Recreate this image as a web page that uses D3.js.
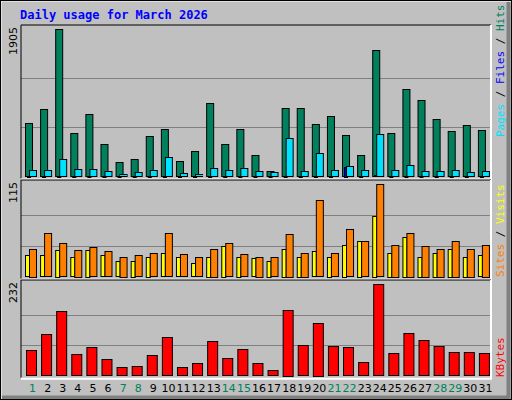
<!DOCTYPE html>
<html><head><meta charset="utf-8">
<script src="https://cdn.jsdelivr.net/npm/d3@7"></script>
<style>body{margin:0;background:#fff}</style>
</head><body>
<svg id="chart" width="512" height="400"></svg>
<script>
const days = d3.range(1, 32);
const weekend = [1, 7, 8, 14, 15, 21, 22, 28, 29];
const hits = [690, 871, 1905, 560, 806, 418, 185, 224, 521, 612, 198, 328, 948, 418, 612, 276,
  69, 884, 884, 677, 780, 534, 276, 1633, 560, 1129, 987, 741, 586, 664, 599];
const files = [82, 82, 224, 95, 95, 69, 30, 56, 82, 250, 43, 30, 108, 82, 108, 69,
  56, 496, 69, 302, 82, 134, 82, 547, 82, 147, 69, 69, 82, 56, 69];
const pages = [6, 6, 10, 6, 6, 5, 3, 4, 6, 10, 3, 3, 8, 6, 8, 5,
  4, 12, 5, 10, 6, 125, 6, 14, 6, 9, 5, 5, 6, 4, 5];
const visits = [35, 54, 41.5, 33, 36.5, 31.6, 25, 26.6, 29, 54, 28, 24, 35, 41.5, 28, 25,
  24, 53, 30, 95, 29, 59, 44, 115, 40, 55, 38, 35, 45, 35, 40];
const sites = [26.6, 26.6, 33, 24, 33, 26.6, 19, 20, 25, 29, 24, 16.6, 25, 38, 25, 23,
  20, 35, 25, 31.6, 25, 40, 45, 76, 30, 50, 25, 30, 35, 25, 26.6];
const kbytes = [64, 105, 163, 54, 72, 41.5, 21, 24, 52, 97, 21, 31, 87, 44, 67, 31,
  13.5, 168, 77, 135, 74.5, 72, 34, 232, 57, 107.5, 90, 74.5, 59, 59, 57];

const svg = d3.select('#chart');
const mono = "'DejaVu Sans Mono', monospace";
const sans = "'DejaVu Sans', sans-serif";

// frame
svg.append('rect').attr('x', 0).attr('y', 0).attr('width', 512).attr('height', 400).attr('fill', '#c0c0c0');
svg.append('path').attr('d', 'M0.5,399.5V0.5H511.5').attr('stroke', '#fff').attr('stroke-width', 2).attr('fill', 'none');
svg.append('path').attr('d', 'M2,397.5H508.5V2').attr('stroke', '#808080').attr('stroke-width', 4).attr('fill', 'none');
svg.append('rect').attr('x', 0.5).attr('y', 0.5).attr('width', 511).attr('height', 399).attr('fill', 'none').attr('stroke', '#000');

svg.append('text').attr('x', 20).attr('y', 19).attr('fill', '#0000ff')
  .attr('font-family', mono).attr('font-weight', 'bold').attr('font-size', 12)
  .text('Daily usage for March 2026');

const x = d3.scaleBand().domain(days).range([22, 490]).paddingInner(0).paddingOuter(0);

const panels = [
  { top: 25, base: 176.5, maxY: 29.3, max: 1905, label: '1905' },
  { top: 180, base: 276.7, maxY: 184.3, max: 115, label: '115' },
  { top: 280, base: 375.7, maxY: 284.3, max: 232, label: '232' }
];

panels.forEach(p => {
  const h = p.base - p.top;
  const bottom = p.base + 2;
  svg.append('rect').attr('x', 21).attr('y', p.top).attr('width', 470).attr('height', bottom - p.top).attr('fill', '#c0c0c0');
  [1, 2].forEach(k => {
    const gy = Math.round(p.base - (p.base - p.maxY) * k / 3) + 0.5;
    svg.append('line').attr('x1', 21).attr('x2', 490).attr('y1', gy).attr('y2', gy).attr('stroke', '#808080');
  });
  svg.append('path').attr('d', `M21,${bottom}V${p.top}H491`).attr('stroke', '#000').attr('fill', 'none');
  svg.append('path').attr('d', `M21,${bottom + 1}H491V${p.top}`).attr('stroke', '#fff').attr('stroke-width', 2).attr('fill', 'none');
  svg.append('text').attr('transform', `translate(17,${p.top + 2}) rotate(-90)`).attr('text-anchor', 'end')
    .attr('font-family', sans).attr('font-size', 11).attr('fill', '#000').text(p.label);
  p.y = d3.scaleLinear().domain([0, p.max]).range([p.base, p.maxY]);
});

function bars(data, p, dx, w, color) {
  svg.append('g').selectAll('rect').data(data).join('rect')
    .attr('x', (d, i) => x(days[i]) + dx + 0.5)
    .attr('y', d => Math.round(p.y(d)) + 0.5)
    .attr('width', w)
    .attr('height', d => Math.max(1, Math.round(p.base - p.y(d))))
    .attr('fill', color).attr('stroke', '#000');
}

const [p1, p2, p3] = panels;
bars(hits, p1, 3, 7, '#00805c');
bars(pages, p1, 5, 3, '#0000ff');
bars(files, p1, 7, 7, '#00e0ff');
bars(sites, p2, 3, 4, '#ffff00');
bars(visits, p2, 7, 7, '#ff8000');
bars(kbytes, p3, 4, 10, '#ff0000');

svg.append('g').selectAll('text').data(days).join('text')
  .attr('x', d => x(d) + x.bandwidth() / 2 + 3)
  .attr('y', 392)
  .attr('text-anchor', 'middle')
  .attr('font-family', sans).attr('font-size', 11)
  .attr('fill', d => weekend.includes(d) ? '#00805c' : '#000')
  .text(d => d);

function sideLabel(yBottom, parts) {
  const t = svg.append('text').attr('transform', `translate(504,${yBottom}) rotate(-90)`)
    .attr('font-family', mono).attr('font-size', 11);
  parts.forEach(([s, c]) => t.append('tspan').attr('fill', c).text(s));
}
sideLabel(137, [['Pages', '#00e0ff'], [' / ', '#000'], ['Files', '#0000ff'], [' / ', '#000'], ['Hits', '#00805c']]);
sideLabel(277, [['Sites', '#ff8000'], [' / ', '#000'], ['Visits', '#ffff00']]);
sideLabel(377, [['KBytes', '#ff0000']]);
</script>
</body></html>
